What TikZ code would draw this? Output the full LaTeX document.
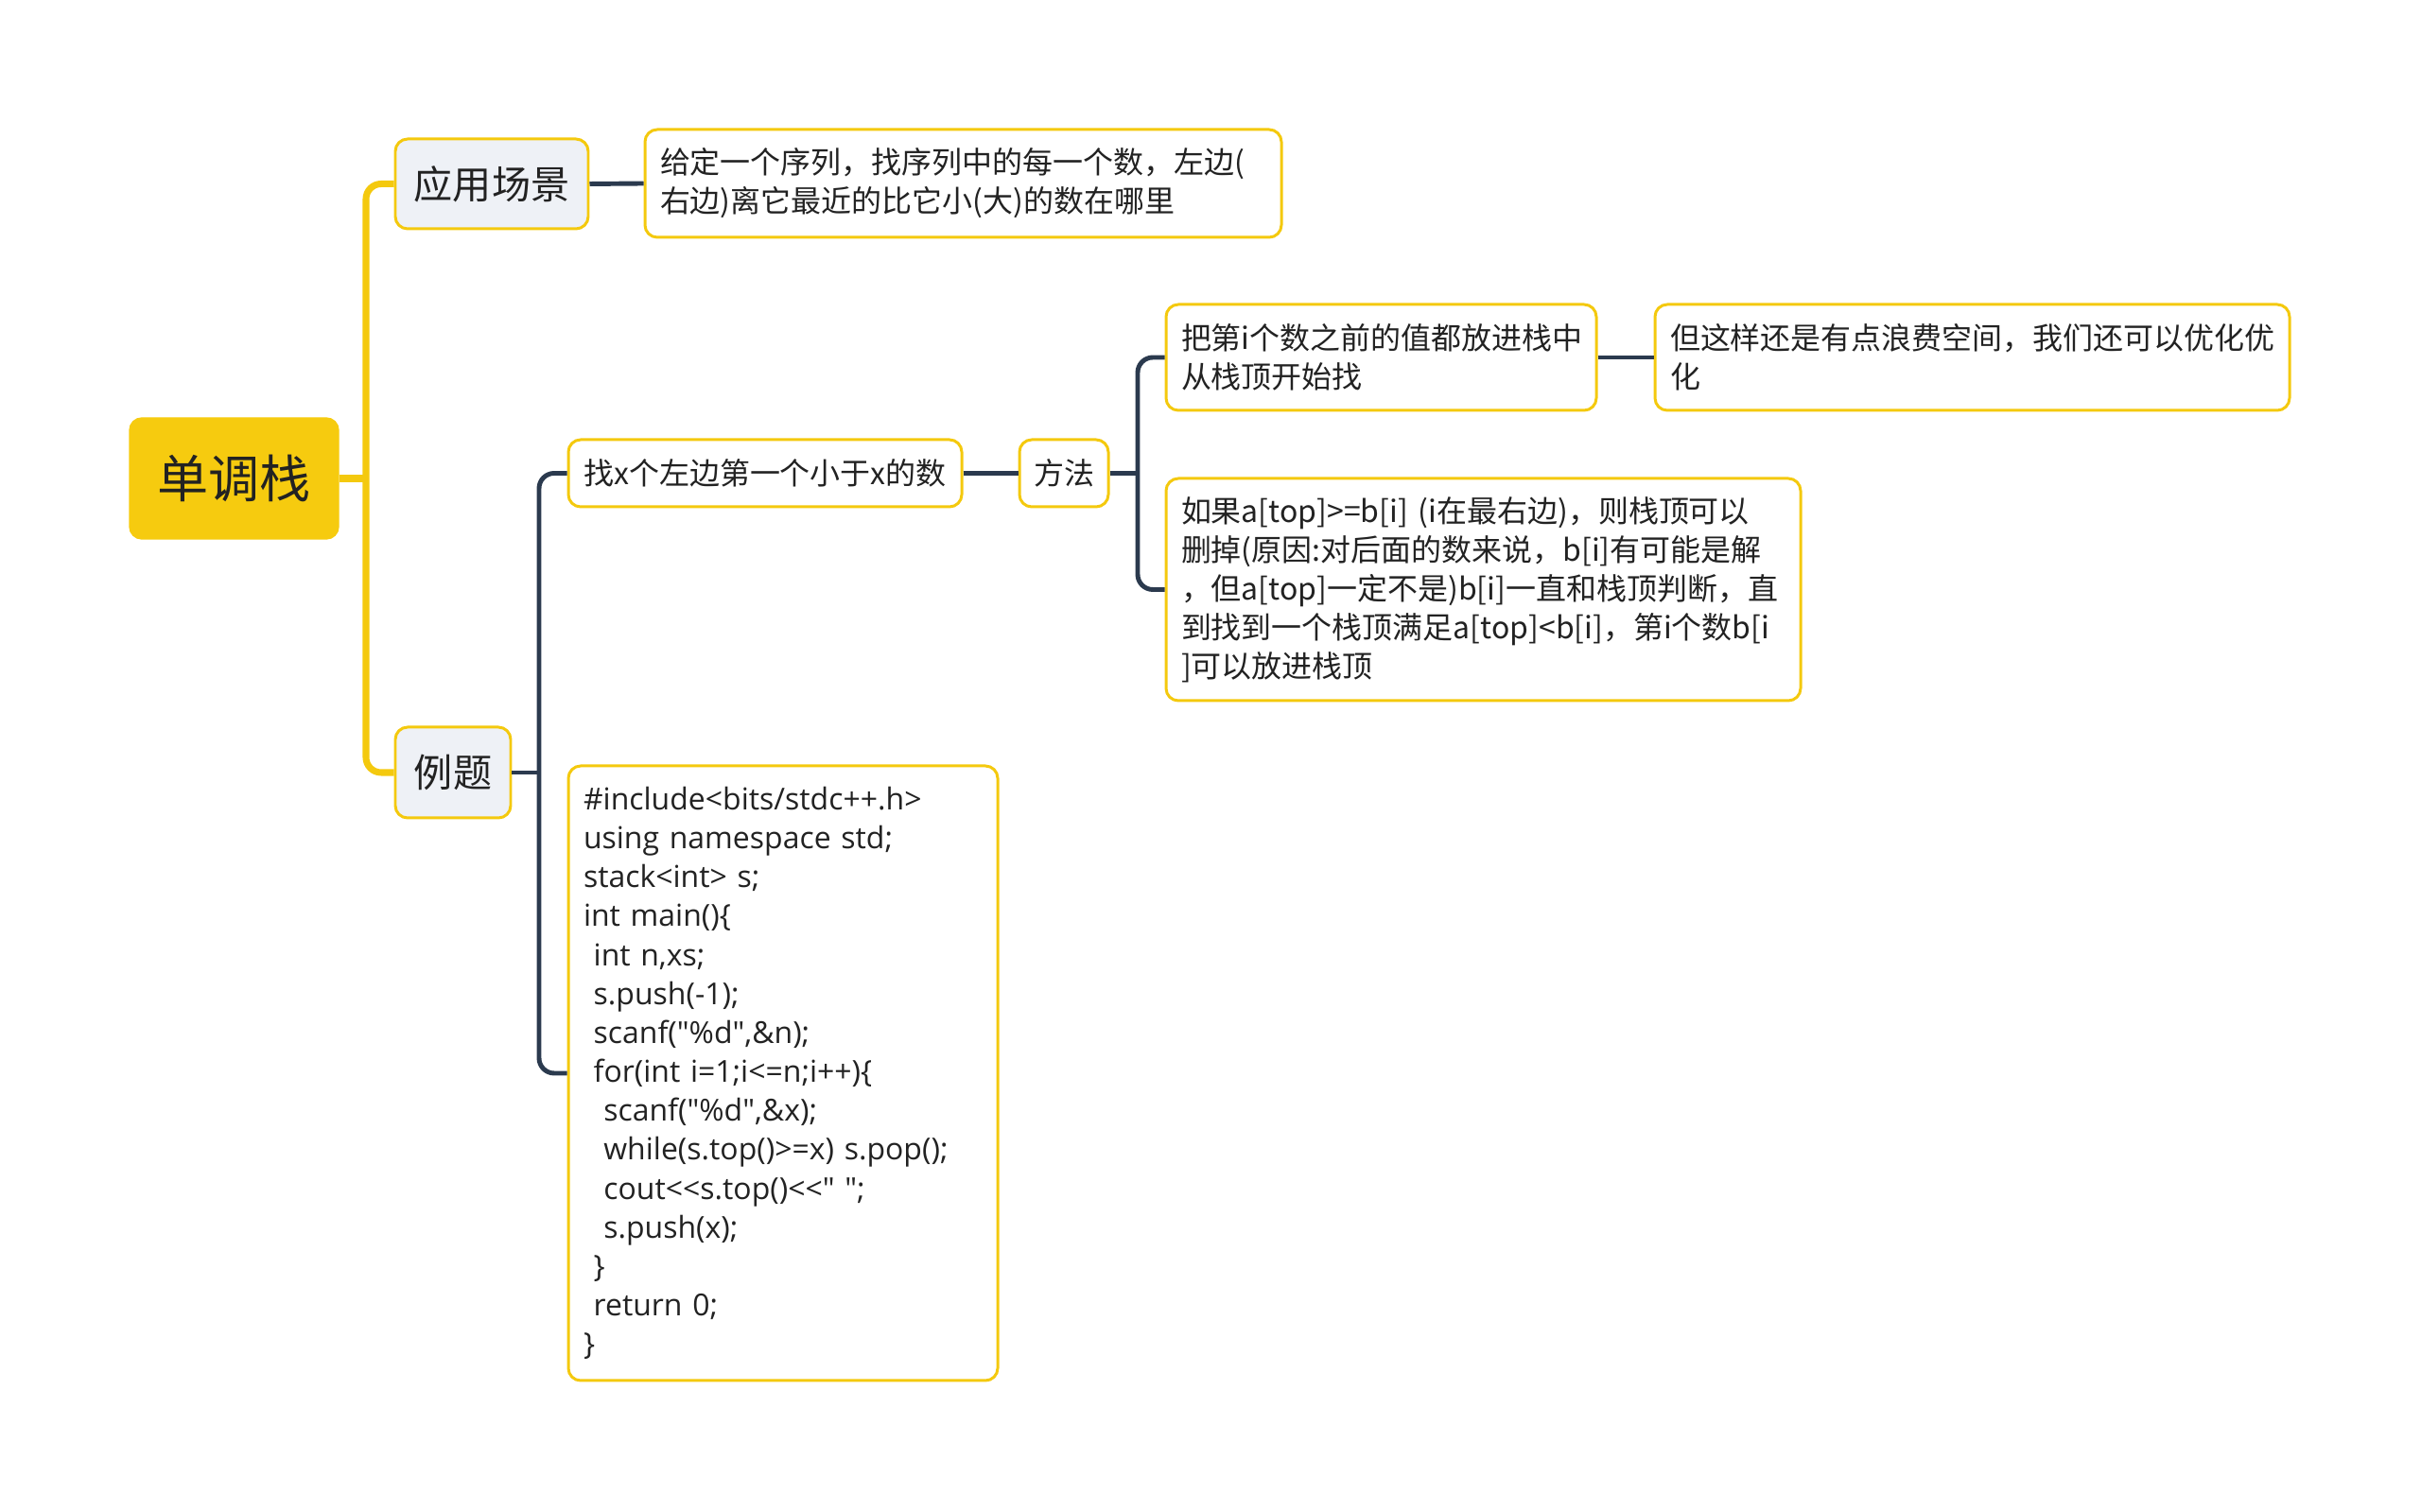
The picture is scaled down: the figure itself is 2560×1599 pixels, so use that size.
\documentclass[tikz,border=0pt]{standalone}
\usepackage{fontspec}
\usepackage{tikz}
\usepackage{xcolor}
\usetikzlibrary{positioning,calc}
\setmainfont{Noto Sans CJK SC}
\newfontfamily\codefont{Open Sans}
\definecolor{gold}{HTML}{F4C90E}
\definecolor{goldfill}{HTML}{F6CB0F}
\definecolor{mist}{HTML}{EEF1F6}
\definecolor{navy}{HTML}{2B3A4E}
\definecolor{ink}{HTML}{222222}
\tikzset{
  topic/.style={fill=goldfill, draw=goldfill, rounded corners=1.3mm, text=ink,
                font=\fontsize{15.4}{18}\selectfont, inner sep=0pt},
  subtopic/.style={draw=gold, fill=mist, rounded corners=1.3mm, line width=0.85pt,
                   text=ink, font=\fontsize{11.7}{14}\selectfont, inner sep=0pt},
  leaf/.style={draw=gold, fill=white, rounded corners=1.3mm, line width=0.85pt,
               text=ink, align=left, inner xsep=1.6mm, inner ysep=0pt,
               font=\fontsize{9.1}{11.67}\selectfont},
  link/.style={draw=gold, line width=2pt, rounded corners=1.6mm},
  branch/.style={draw=navy, line width=1.4pt, rounded corners=1.6mm}
}
\begin{document}
\begin{tikzpicture}[x=0.1mm,y=-0.1mm]
        \useasboundingbox (0,0) rectangle (2560,1599);
        \node[topic,minimum width=22.1mm,minimum height=12.8mm] (root) at (247.5,506) {单调栈};
        \node[subtopic,minimum width=20.4mm,minimum height=9.5mm] (app) at (520,194.5) {应用场景};
        \node[subtopic,minimum width=12.2mm,minimum height=9.6mm] (ex) at (479,817) {例题};
        \node[leaf,text width=64.1mm,minimum height=11.4mm] (desc) at (1018.5,194)
          {给定一个序列，找序列中的每一个数，左边(\\右边)离它最近的比它小(大)的数在哪里};
        \node[leaf,minimum width=41.6mm,minimum height=7.1mm,inner xsep=0pt] (find) at (809,500.5)
          {找x个左边第一个小于x的数};
        \node[leaf,minimum width=9.4mm,minimum height=7.1mm,inner xsep=0pt] (meth) at (1125,500.5) {方法};
        \node[leaf,text width=42.3mm,minimum height=11.2mm] (put) at (1460.5,378)
          {把第i个数之前的值都放进栈中\\从栈顶开始找};
        \node[leaf,text width=63.9mm,minimum height=11.2mm] (waste) at (2085.5,378)
          {但这样还是有点浪费空间，我们还可以优化优\\化};
        \node[leaf,text width=63.9mm,minimum height=23.5mm] (cond) at (1568.5,623.5)
          {如果a[top]>=b[i] (i在最右边)，则栈顶可以\\删掉(原因:对后面的数来说，b[i]有可能是解\\，但a[top]一定不是)b[i]一直和栈顶判断，直\\到找到一个栈顶满足a[top]<b[i]，第i个数b[i\\]可以放进栈顶};
        \node[leaf,text width=42.2mm,minimum height=65mm,font=\codefont\fontsize{9.1}{11.72}\selectfont] (code) at (828,1135)
          {\#include<bits/stdc++.h>\\using namespace std;\\stack<int> s;\\int main()\{\\\ int n,xs;\\\ s.push(-1);\\\ scanf("\%d",\&n);\\\ for(int i=1;i<=n;i++)\{\\\ \ scanf("\%d",\&x);\\\ \ while(s.top()>=x) s.pop();\\\ \ cout<<s.top()<<" ";\\\ \ s.push(x);\\\ \}\\\ return 0;\\\}};
        \coordinate (trunk) at (387,506);
        \coordinate (exjoin) at (570,817);
        \coordinate (methjoin) at (1203,500.5);
        \draw[link] (root.east) -- (trunk);
        \draw[link] (app.west) -| (trunk) |- (ex.west);
        \draw[branch] (app.east) -- (desc.west);
        \draw[branch] (ex.east) -- (exjoin);
        \draw[branch] (find.west) -| (exjoin) |- (code.west);
        \draw[branch] (find.east) -- (meth.west);
        \draw[branch] (meth.east) -- (methjoin);
        \draw[branch] (put.west) -| (methjoin) |- (cond.west);
        \draw[branch] (put.east) -- (waste.west);
      \end{tikzpicture}
\end{document}
